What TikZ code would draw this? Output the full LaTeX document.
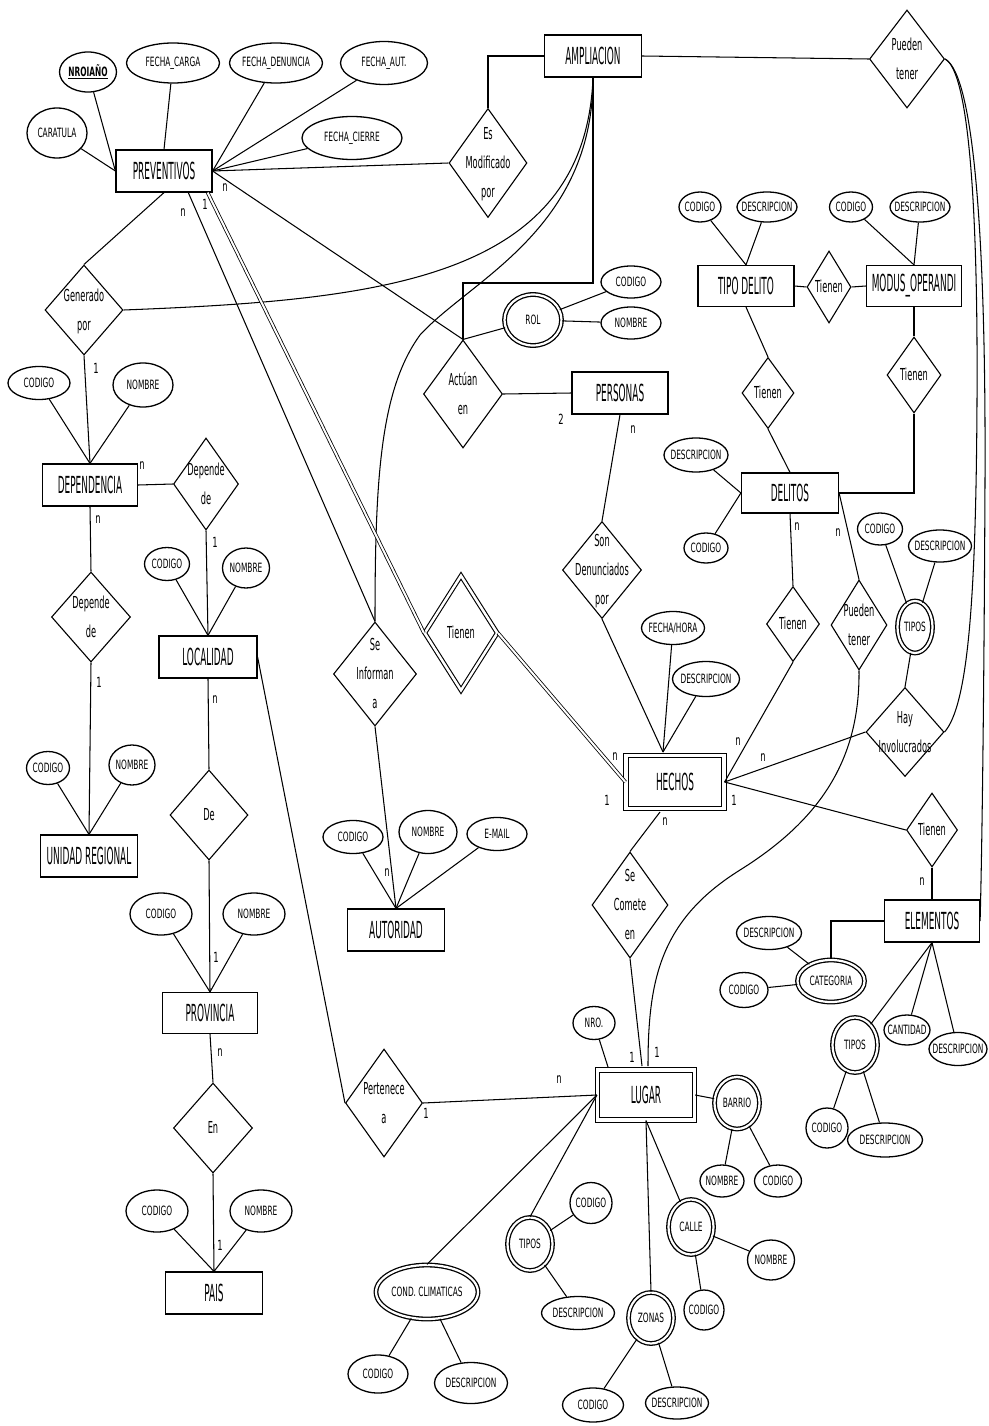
\documentclass[tikz,border=0pt]{standalone}
\usepackage{fontspec}
\setmainfont{DejaVu Sans}
\newfontfamily\entfam{DejaVu Sans}[FakeStretch=0.38]
\newfontfamily\relfam{DejaVu Sans}[FakeStretch=0.5]
\newfontfamily\attfam{DejaVu Sans}[FakeStretch=0.58]
\newfontfamily\cardfam{DejaVu Sans}[FakeStretch=0.6]
\usetikzlibrary{shapes.geometric,calc}
\newcommand\zt[1]{\makebox[0pt]{\vbox to 0pt{\vss\hbox{\begin{tabular}{@{}c@{}}#1\end{tabular}}\vss}}}
\newcommand\zw[1]{\makebox[0pt]{#1}}
\begin{document}
\begin{tikzpicture}[x=1pt,y=-1pt,
  ent/.style={draw, rectangle, line width=1.2pt, inner sep=0pt, font=\entfam\fontsize{23.5}{28}\selectfont},
  went/.style={ent, double, double distance=3.5pt},
  att/.style={draw, ellipse, line width=1.3pt, inner sep=0pt, font=\attfam\fontsize{12.8}{14}\selectfont},
  watt/.style={att, double, double distance=2.2pt},
  rel/.style={draw, diamond, line width=1.1pt, inner sep=0pt, font=\relfam\fontsize{16.5}{29}\selectfont},
  wrel/.style={rel, double, double distance=2.5pt},
  card/.style={inner sep=0pt, font=\cardfam\fontsize{14}{16}\selectfont},
  ln/.style={line width=1.05pt},
  dl/.style={line width=0.8pt, double, double distance=2pt},
  sz/.style 2 args={minimum width=#1pt, minimum height=#2pt}
]
\fill[white] (0,0) rectangle (988,1426);
\useasboundingbox (0,0) rectangle (988,1426);

% ---------- entities ----------
\node[ent, sz={96}{42}] (prev) at (164,171) {PREVENTIVOS};
\node[ent, sz={97}{42}] (amp) at (593,56) {AMPLIACION};
\node[ent, sz={96}{41}] (tdel) at (746,286) {TIPO DELITO};
\node[ent, sz={95}{41}] (modus) at (914,286) {MODUS\_OPERANDI};
\node[ent, sz={96}{42}] (pers) at (620,393) {PERSONAS};
\node[ent, sz={97}{40}] (delitos) at (790,493) {DELITOS};
\node[ent, sz={95}{42}] (dep) at (90,485) {DEPENDENCIA};
\node[ent, sz={98}{42}] (loc) at (208,657) {LOCALIDAD};
\node[ent, sz={97}{42}] (ur) at (89,856) {UNIDAD REGIONAL};
\node[ent, sz={95}{41}] (prov) at (210,1013) {PROVINCIA};
\node[ent, sz={97}{42}] (pais) at (214,1293) {PAIS};
\node[ent, sz={97}{42}] (aut) at (396,930) {AUTORIDAD};
\node[ent, sz={95}{42}] (elem) at (932,921) {ELEMENTOS};
\node[went, sz={98}{53}] (hechos) at (675,782) {HECHOS};
\node[went, sz={97}{50}] (lugar) at (646,1095) {LUGAR};

% ---------- relationships ----------
\node[rel, sz={78}{109}] (modif) at (488,163) {\zt{Es\\Modificado\\por}};
\node[rel, sz={75}{98}] (pueden1) at (907,59) {\zt{Pueden\\tener}};
\node[rel, sz={78}{90}] (gen) at (84,310) {\zt{Generado\\por}};
\node[rel, sz={79}{108}] (actuan) at (463,394) {\zt{Actúan\\en}};
\node[rel, sz={44}{72}] (tien1) at (829,287) {\zt{Tienen}};
\node[rel, sz={52}{71}] (tien2) at (768,393) {\zt{Tienen}};
\node[rel, sz={54}{76}] (tien3) at (914,375) {\zt{Tienen}};
\node[rel, sz={79}{97}] (denun) at (602,570) {\zt{Son\\Denunciados\\por}};
\node[rel, sz={53}{75}] (tien4) at (793,624) {\zt{Tienen}};
\node[rel, sz={56}{90}] (pueden2) at (859,625) {\zt{Pueden\\tener}};
\node[rel, sz={78}{89}] (hay) at (905,732) {\zt{Hay\\Involucrados}};
\node[rel, sz={51}{74}] (tien5) at (932,830) {\zt{Tienen}};
\node[rel, sz={65}{92}] (dep1) at (206,484) {\zt{Depende\\de}};
\node[rel, sz={79}{90}] (dep2) at (91,617) {\zt{Depende\\de}};
\node[rel, sz={83}{104}] (inform) at (375,674) {\zt{Se\\Informan\\a}};
\node[wrel, sz={73}{115}] (tienw) at (461,633) {\zt{Tienen}};
\node[rel, sz={76}{106}] (comete) at (630,905) {\zt{Se\\Comete\\en}};
\node[rel, sz={78}{90}] (de) at (209,815) {\zt{De}};
\node[rel, sz={79}{90}] (en) at (213,1128) {\zt{En}};
\node[rel, sz={77}{108}] (pert) at (384,1103) {\zt{Pertenece\\a}};

% ---------- attributes ----------
\node[att, sz={57}{40}] (a_nro) at (88,72) {\zw{\bfseries\underline{NROIAÑO}}};
\node[att, sz={93}{40}] (a_fc) at (173,63) {\zw{FECHA\_CARGA}};
\node[att, sz={93}{40}] (a_fd) at (276,63) {\zw{FECHA\_DENUNCIA}};
\node[att, sz={60}{50}] (a_car) at (57,133) {\zw{CARATULA}};
\node[att, sz={87}{43}] (a_fa) at (384,63) {\zw{FECHA\_AUT.}};
\node[att, sz={100}{43}] (a_fci) at (352,138) {\zw{FECHA\_CIERRE}};
\node[watt, sz={57}{51}] (rol) at (533,320) {\zw{ROL}};
\node[att, sz={60}{32}] (rol_c) at (631,282) {\zw{CODIGO}};
\node[att, sz={60}{32}] (rol_n) at (631,323) {\zw{NOMBRE}};
\node[att, sz={42}{30}] (td_c) at (700,207) {\zw{CODIGO}};
\node[att, sz={60}{30}] (td_d) at (767,207) {\zw{DESCRIPCION}};
\node[att, sz={43}{30}] (mo_c) at (851,207) {\zw{CODIGO}};
\node[att, sz={60}{30}] (mo_d) at (920,207) {\zw{DESCRIPCION}};
\node[att, sz={64}{34}] (del_d) at (696,455) {\zw{DESCRIPCION}};
\node[att, sz={44}{30}] (del_c) at (706,548) {\zw{CODIGO}};
\node[watt, sz={35}{52}] (tiposH) at (915,627) {\zw{TIPOS}};
\node[att, sz={45}{32}] (tiposH_c) at (880,529) {\zw{CODIGO}};
\node[att, sz={63}{32}] (tiposH_d) at (940,546) {\zw{DESCRIPCION}};
\node[att, sz={63}{33}] (fh) at (673,628) {\zw{FECHA/HORA}};
\node[att, sz={67}{35}] (hdes) at (706,679) {\zw{DESCRIPCION}};
\node[att, sz={62}{33}] (dep_c) at (39,383) {\zw{CODIGO}};
\node[att, sz={60}{44}] (dep_n) at (143,385) {\zw{NOMBRE}};
\node[att, sz={45}{33}] (loc_c) at (167,564) {\zw{CODIGO}};
\node[att, sz={47}{40}] (loc_n) at (246,568) {\zw{NOMBRE}};
\node[att, sz={43}{33}] (ur_c) at (48,768) {\zw{CODIGO}};
\node[att, sz={46}{40}] (ur_n) at (132,765) {\zw{NOMBRE}};
\node[att, sz={62}{42}] (prov_c) at (161,914) {\zw{CODIGO}};
\node[att, sz={62}{42}] (prov_n) at (254,914) {\zw{NOMBRE}};
\node[att, sz={62}{42}] (pais_c) at (157,1211) {\zw{CODIGO}};
\node[att, sz={62}{42}] (pais_n) at (261,1211) {\zw{NOMBRE}};
\node[att, sz={60}{33}] (aut_c) at (353,837) {\zw{CODIGO}};
\node[att, sz={58}{43}] (aut_n) at (428,832) {\zw{NOMBRE}};
\node[att, sz={60}{33}] (aut_e) at (497,834) {\zw{E-MAIL}};
\node[watt, sz={67}{42}] (cat) at (831,981) {\zw{CATEGORIA}};
\node[att, sz={65}{33}] (cat_d) at (769,933) {\zw{DESCRIPCION}};
\node[att, sz={48}{35}] (cat_c) at (744,990) {\zw{CODIGO}};
\node[watt, sz={45}{55}] (tiposE) at (855,1045) {\zw{TIPOS}};
\node[att, sz={46}{30}] (cant) at (907,1030) {\zw{CANTIDAD}};
\node[att, sz={58}{33}] (el_d) at (958,1049) {\zw{DESCRIPCION}};
\node[att, sz={42}{40}] (tiposE_c) at (827,1128) {\zw{CODIGO}};
\node[att, sz={75}{34}] (tiposE_d) at (885,1140) {\zw{DESCRIPCION}};
\node[att, sz={42}{33}] (nro) at (594,1023) {\zw{NRO.}};
\node[watt, sz={45}{52}] (barrio) at (737,1103) {\zw{BARRIO}};
\node[att, sz={44}{32}] (bar_n) at (722,1181) {\zw{NOMBRE}};
\node[att, sz={47}{32}] (bar_c) at (778,1181) {\zw{CODIGO}};
\node[watt, sz={45}{55}] (calle) at (691,1227) {\zw{CALLE}};
\node[att, sz={47}{40}] (calle_n) at (771,1260) {\zw{NOMBRE}};
\node[att, sz={40}{40}] (calle_c) at (704,1310) {\zw{CODIGO}};
\node[watt, sz={45}{51}] (zonas) at (651,1318) {\zw{ZONAS}};
\node[att, sz={61}{34}] (zon_c) at (593,1405) {\zw{CODIGO}};
\node[att, sz={63}{32}] (zon_d) at (677,1403) {\zw{DESCRIPCION}};
\node[watt, sz={45}{53}] (tiposL) at (530,1244) {\zw{TIPOS}};
\node[att, sz={42}{41}] (tl_c) at (591,1203) {\zw{CODIGO}};
\node[att, sz={73}{33}] (tl_d) at (578,1313) {\zw{DESCRIPCION}};
\node[watt, sz={102}{54}] (cond) at (427,1292) {\zw{COND. CLIMATICAS}};
\node[att, sz={60}{38}] (cond_c) at (378,1374) {\zw{CODIGO}};
\node[att, sz={73}{41}] (cond_d) at (471,1383) {\zw{DESCRIPCION}};

% ---------- helper coordinates ----------
\coordinate (pmid) at ($(prev.south)!0.5!(prev.south east)$);
\coordinate (pdbl) at ($(prev.south east)+(-5,0)$);
\coordinate (htop) at (663,752);
\coordinate (hbot) at (660,812);
\coordinate (ltop1) at (642,1066);
\coordinate (ltop2) at (648,1066);
\coordinate (lnw) at (608,1067);
\coordinate (abend) at (463,283);

% ---------- connectors ----------
\begin{scope}[ln]
\draw (a_car) -- (prev.west);
\draw (a_nro) -- (prev.west);
\draw (a_fc) -- (prev.north);
\draw (a_fd) -- (prev.east);
\draw (a_fa) -- (prev.east);
\draw (a_fci) -- (prev.east);
\draw (prev.east) -- (modif.west);
\draw (prev.east) -- (actuan.north);
\draw (prev.south) -- (gen.north);
\draw (pmid) -- (inform.north);
\draw (modif.north) |- (amp.west);
\draw (amp.east) -- (pueden1.west);
\draw (amp.south) .. controls (585,280) and (380,300) .. (gen.east);
\draw (amp.south) .. controls (593,230) and (470,280) .. (420,335) .. controls (380,390) and (375,480) .. (inform.north);
\draw (amp.south) |- (abend) -- (actuan.north);
\draw (rol) -- (actuan.north);
\draw (rol) -- (rol_c);
\draw (rol) -- (rol_n);
\draw (actuan.east) -- (pers.west);
\draw (pers.south) -- (denun.north);
\draw (denun.south) -- (htop);
\draw (fh) -- (htop);
\draw (hdes) -- (htop);
\draw (hechos.east) -- (hay.west);
\draw (hechos.east) -- (tien5.west);
\draw (tien4.south) -- (hechos.east);
\draw (hbot) -- (comete.north);
\draw (comete.south) -- (ltop1);
\draw (tien5.south) -- (elem.north);
\draw (elem.west) -| (cat.north);
\draw (cat_d) -- (cat);
\draw (cat_c) -- (cat);
\draw (elem.south) -- (tiposE);
\draw (elem.south) -- (cant);
\draw (elem.south) -- (el_d);
\draw (tiposE) -- (tiposE_c);
\draw (tiposE) -- (tiposE_d);
\draw (tiposH) -- (hay.north);
\draw (tiposH_c) -- (tiposH);
\draw (tiposH_d) -- (tiposH);
\draw (pueden1.east) .. controls (970,72) and (978,220) .. (977,400) .. controls (976,600) and (968,705) .. (hay.east);
\draw (pueden1.east) .. controls (975,75) and (986,250) .. (985,480) .. controls (984,700) and (982,850) .. (elem.east);
\draw (del_d) -- (delitos.west);
\draw (del_c) -- (delitos.west);
\draw (delitos.east) -| (tien3.south);
\draw (tien3.north) -- (modus.south);
\draw (tdel.south) -- (tien2.north);
\draw (tien2.south) -- (delitos.north);
\draw (tdel.east) -- (tien1.west);
\draw (tien1.east) -- (modus.west);
\draw (td_c) -- (tdel.north);
\draw (td_d) -- (tdel.north);
\draw (mo_c) -- (modus.north);
\draw (mo_d) -- (modus.north);
\draw (delitos.south) -- (tien4.north);
\draw (delitos.east) -- (pueden2.north);
\draw (pueden2.south) .. controls (860,760) and (820,820) .. (740,870) .. controls (660,920) and (648,980) .. (ltop2);
\draw (gen.south) -- (dep.north);
\draw (dep_c) -- (dep.north);
\draw (dep_n) -- (dep.north);
\draw (dep.east) -- (dep1.west);
\draw (dep1.south) -- (loc.north);
\draw (loc_c) -- (loc.north);
\draw (loc_n) -- (loc.north);
\draw (dep.south) -- (dep2.north);
\draw (dep2.south) -- (ur.north);
\draw (ur_c) -- (ur.north);
\draw (ur_n) -- (ur.north);
\draw (loc.south) -- (de.north);
\draw (de.south) -- (prov.north);
\draw (prov_c) -- (prov.north);
\draw (prov_n) -- (prov.north);
\draw (prov.south) -- (en.north);
\draw (en.south) -- (pais.north);
\draw (pais_c) -- (pais.north);
\draw (pais_n) -- (pais.north);
\draw (loc.east) -- (pert.west);
\draw (pert.east) -- (lugar.west);
\draw (inform.south) -- (aut.north);
\draw (aut_c) -- (aut.north);
\draw (aut_n) -- (aut.north);
\draw (aut_e) -- (aut.north);
\draw (nro) -- (lnw);
\draw (lugar.east) -- (barrio);
\draw (barrio) -- (bar_n);
\draw (barrio) -- (bar_c);
\draw (lugar.south) -- (calle);
\draw (calle) -- (calle_n);
\draw (calle) -- (calle_c);
\draw (lugar.south) -- (zonas.north);
\draw (zonas) -- (zon_c);
\draw (zonas) -- (zon_d);
\draw (lugar.west) -- (tiposL.north);
\draw (tiposL) -- (tl_c);
\draw (tiposL) -- (tl_d);
\draw (lugar.west) -- (cond.north);
\draw (cond) -- (cond_c);
\draw (cond) -- (cond_d);
\end{scope}
\draw[dl] (pdbl) -- (tienw.west);
\draw[dl] (tienw.east) -- (hechos.west);

% ---------- cardinalities ----------
\node[card] (c1) at (225,188) {n};
\node[card] (c2) at (205,204) {1};
\node[card] (c3) at (183,213) {n};
\node[card] (c4) at (96,368) {1};
\node[card] (c5) at (142,466) {n};
\node[card] (c6) at (215,542) {1};
\node[card] (c7) at (98,520) {n};
\node[card] (c8) at (99,682) {1};
\node[card] (c9) at (215,700) {n};
\node[card] (c10) at (216,957) {1};
\node[card] (c11) at (220,1053) {n};
\node[card] (c12) at (220,1245) {1};
\node[card] (c13) at (561,419) {2};
\node[card] (c14) at (633,430) {n};
\node[card] (c15) at (387,873) {n};
\node[card] (c16) at (615,757) {n};
\node[card] (c17) at (607,800) {1};
\node[card] (c18) at (797,527) {n};
\node[card] (c19) at (838,533) {n};
\node[card] (c20) at (738,742) {n};
\node[card] (c21) at (763,758) {n};
\node[card] (c22) at (734,800) {1};
\node[card] (c23) at (665,822) {n};
\node[card] (c24) at (922,882) {n};
\node[card] (c25) at (632,1057) {1};
\node[card] (c26) at (657,1052) {1};
\node[card] (c27) at (426,1113) {1};
\node[card] (c28) at (559,1080) {n};
\end{tikzpicture}
\end{document}
